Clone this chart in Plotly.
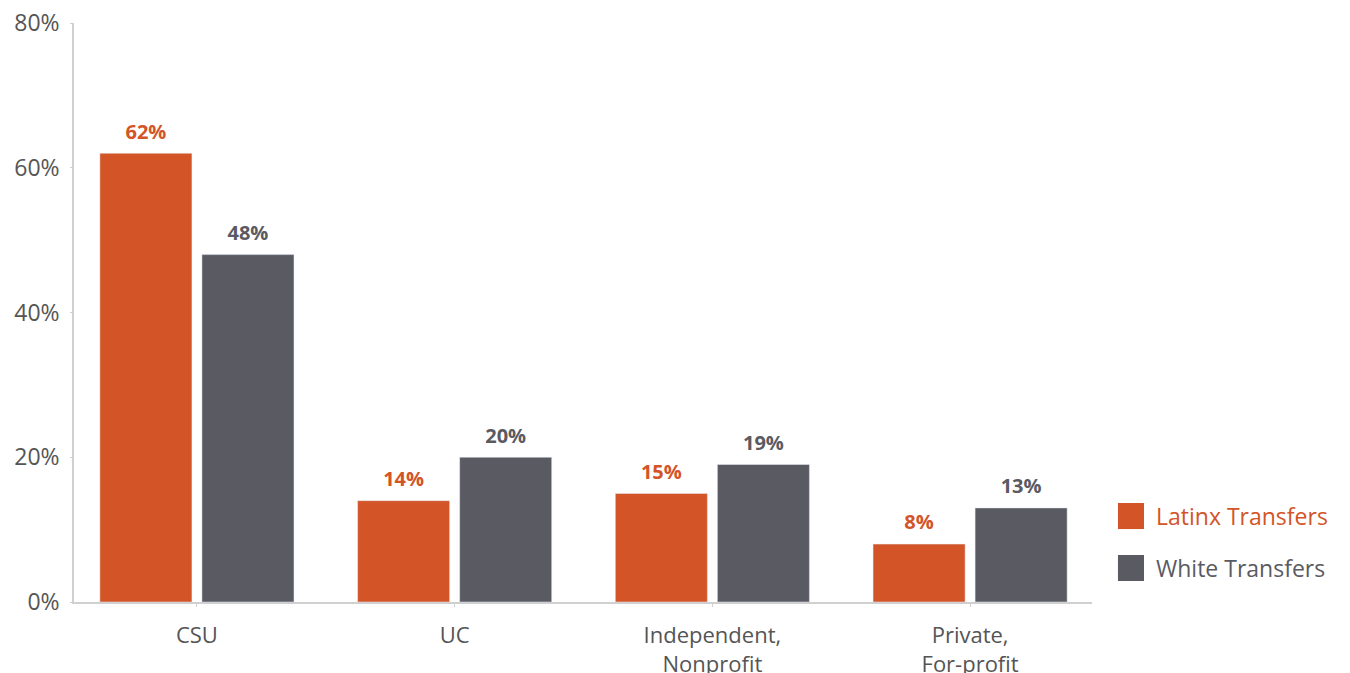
import plotly.graph_objects as go

categories = ["CSU", "UC", "Independent,<br>Nonprofit", "Private,<br>For-profit"]
series_names = ["Latinx Transfers", "White Transfers"]
latinx = [62, 14, 15, 8]
white = [48, 20, 19, 13]
y_ticks = [0, 20, 40, 60, 80]
y_ticklabels = ["0%", "20%", "40%", "60%", "80%"]

colors = ["#D35427", "#5A5A63"]
FONT = "Open Sans"
values = [latinx, white]

fig = go.Figure()
for name, vals, col in zip(series_names, values, colors):
    fig.add_trace(go.Bar(
        x=categories, y=vals, name=name, marker_color=col,
        showlegend=False, offsetgroup=name, hoverinfo="skip",
    ))
for name, vals, col in zip(series_names, values, colors):
    fig.add_trace(go.Scatter(
        x=categories, y=vals, mode="text+markers", offsetgroup=name,
        marker=dict(size=14, opacity=0, color=col),
        text=[f"<b>{v}%</b>" for v in vals], textposition="top center",
        textfont=dict(family=FONT, size=20, color=col),
        showlegend=False, cliponaxis=False, hoverinfo="skip",
    ))

# legend drawn as swatches + labels
sw_y = [(0.171, 0.126), (0.0812, 0.0363)]
for (name, col, (ya, yb)) in zip(series_names, colors, sw_y):
    fig.add_shape(type="rect", xref="paper", yref="paper",
                  x0=1.0255, x1=1.0511, y0=yb, y1=ya,
                  fillcolor=col, line_width=0)
    fig.add_annotation(xref="paper", yref="paper", x=1.0609, y=(ya + yb) / 2,
                       text=name, showarrow=False, xanchor="left", yanchor="middle",
                       font=dict(family=FONT, size=23, color=col))

fig.update_layout(
    width=1350, height=673,
    margin=dict(l=66, r=266, t=15, b=79, autoexpand=False),
    plot_bgcolor="white", paper_bgcolor="white",
    barmode="group", bargap=0.208, bargroupgap=0.098,
    scattermode="group", scattergap=0.208,
    font=dict(family=FONT, color="#555555"),
)
fig.update_xaxes(
    range=[-0.477, 3.473], showgrid=False, automargin=False,
    showline=True, linecolor="#D0D0D0", linewidth=1.5,
    ticks="outside", ticklen=3, tickcolor="#D0D0D0",
    tickfont=dict(family=FONT, size=22, color="#555555"),
    ticklabelstandoff=10, ticklabeloverflow="allow",
)
fig.update_yaxes(
    range=[0, 80], tickvals=y_ticks, ticktext=y_ticklabels, showgrid=False,
    automargin=False,
    showline=True, linecolor="#D0D0D0", linewidth=1.5,
    ticks="outside", ticklen=2, tickcolor="#D0D0D0",
    tickfont=dict(family=FONT, size=23, color="#555555"),
    zeroline=False, ticklabelstandoff=6, ticklabeloverflow="allow",
)
fig.write_html("out.html")
